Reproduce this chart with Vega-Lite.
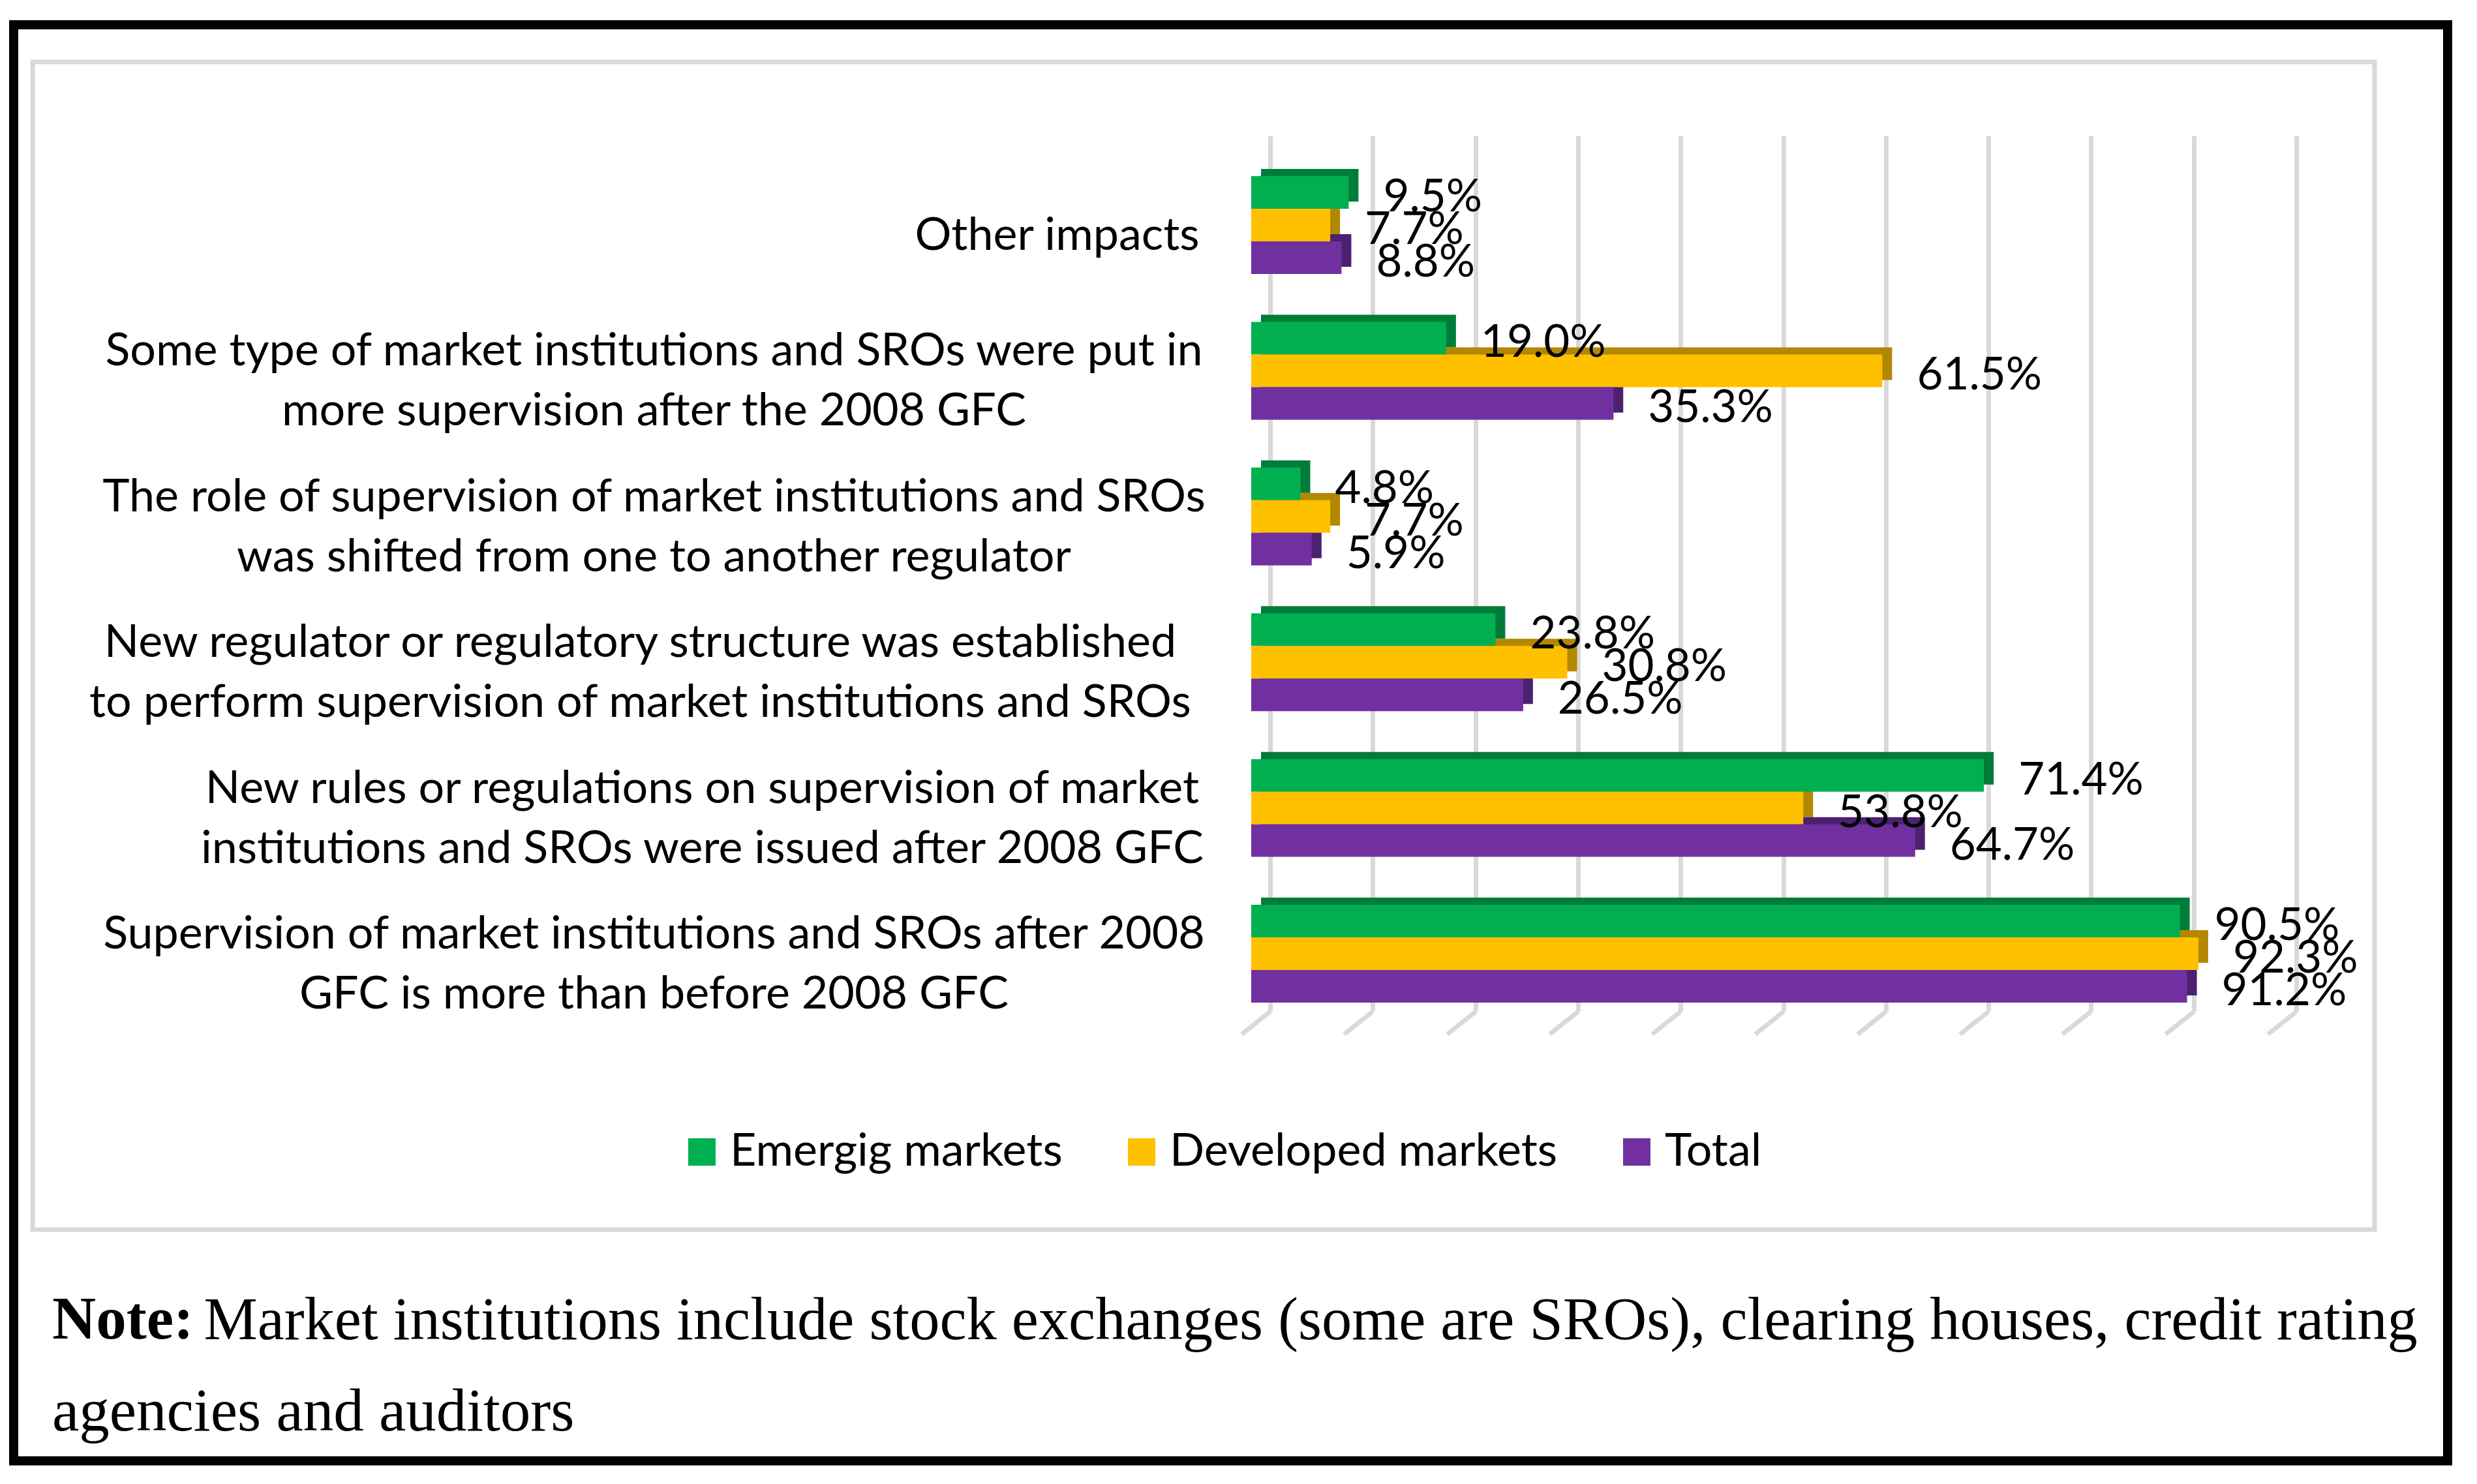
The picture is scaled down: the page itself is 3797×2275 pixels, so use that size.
{
  "$schema": "https://vega.github.io/schema/vega-lite/v6.json",
  "width": 3590,
  "height": 1790,
  "autosize": {"type": "none"},
  "padding": {"left": 50, "top": 95, "right": 157, "bottom": 390},
  "background": "white",
  "config": {
    "view": {"stroke": "#D9D9D9", "strokeWidth": 7},
    "font": "Lato"
  },
  "datasets": {
    "survey": [
      {"item": "Other impacts", "market": "Emergig markets", "share": 0.095},
      {"item": "Other impacts", "market": "Developed markets", "share": 0.077},
      {"item": "Other impacts", "market": "Total", "share": 0.088},
      {"item": "Some type of market institutions and SROs were put in\nmore supervision after the 2008 GFC", "market": "Emergig markets", "share": 0.190},
      {"item": "Some type of market institutions and SROs were put in\nmore supervision after the 2008 GFC", "market": "Developed markets", "share": 0.615},
      {"item": "Some type of market institutions and SROs were put in\nmore supervision after the 2008 GFC", "market": "Total", "share": 0.353},
      {"item": "The role of supervision of market institutions and SROs\nwas shifted from one to another regulator", "market": "Emergig markets", "share": 0.048},
      {"item": "The role of supervision of market institutions and SROs\nwas shifted from one to another regulator", "market": "Developed markets", "share": 0.077},
      {"item": "The role of supervision of market institutions and SROs\nwas shifted from one to another regulator", "market": "Total", "share": 0.059},
      {"item": "New regulator or regulatory structure was established\nto perform supervision of market institutions and SROs", "market": "Emergig markets", "share": 0.238},
      {"item": "New regulator or regulatory structure was established\nto perform supervision of market institutions and SROs", "market": "Developed markets", "share": 0.308},
      {"item": "New regulator or regulatory structure was established\nto perform supervision of market institutions and SROs", "market": "Total", "share": 0.265},
      {"item": "New rules or regulations on supervision of market\ninstitutions and SROs were issued after 2008 GFC", "market": "Emergig markets", "share": 0.714},
      {"item": "New rules or regulations on supervision of market\ninstitutions and SROs were issued after 2008 GFC", "market": "Developed markets", "share": 0.538},
      {"item": "New rules or regulations on supervision of market\ninstitutions and SROs were issued after 2008 GFC", "market": "Total", "share": 0.647},
      {"item": "Supervision of market institutions and SROs after 2008\nGFC is more than before 2008 GFC", "market": "Emergig markets", "share": 0.905},
      {"item": "Supervision of market institutions and SROs after 2008\nGFC is more than before 2008 GFC", "market": "Developed markets", "share": 0.923},
      {"item": "Supervision of market institutions and SROs after 2008\nGFC is more than before 2008 GFC", "market": "Total", "share": 0.912}
    ]
  },
  "title": {
    "text": "Note:",
    "subtitle": "agencies and auditors",
    "orient": "bottom",
    "anchor": "start",
    "frame": "group",
    "font": "Liberation Serif",
    "fontSize": 93,
    "fontWeight": "bold",
    "color": "black",
    "subtitleFont": "Liberation Serif",
    "subtitleFontSize": 93,
    "subtitleFontWeight": "normal",
    "subtitleColor": "black",
    "subtitlePadding": 48,
    "offset": -268,
    "dx": 30
  },
  "resolve": {"scale": {"x": "independent", "y": "independent"}},
  "layer": [
    {
      "data": {"values": [{}]},
      "mark": {
        "type": "rect",
        "fill": "transparent",
        "stroke": "black",
        "strokeWidth": 14,
        "xOffset": -29,
        "x2Offset": 112,
        "yOffset": -57,
        "y2Offset": 354.5,
        "clip": false
      },
      "encoding": {
        "x": {"value": 0},
        "x2": {"value": "width"},
        "y": {"value": 0},
        "y2": {"value": "height"}
      }
    },
    {
      "data": {"name": "survey"},
      "resolve": {"scale": {"yOffset": "independent", "color": "independent"}},
      "layer": [
        {
          "mark": {"type": "bar", "xOffset": 15, "x2Offset": 15},
          "encoding": {
            "y": {"field": "item", "type": "nominal", "sort": null,
                  "scale": {"range": [113, 1455], "paddingInner": 0.3286, "paddingOuter": 0.1679, "align": 0.827},
                  "axis": {
                    "title": null, "domain": false, "ticks": false, "tickSize": 0, "grid": false,
                    "offset": -1786, "labelPadding": 0,
                    "labelAlign": "center", "labelBaseline": "middle",
                    "labelFont": "Lato", "labelFontSize": 70, "labelColor": "black",
                    "labelLimit": 3000, "labelLineHeight": 92, "labelOffset": 17, "labelOverlap": false,
                    "labelExpr": "split(datum.label, '\\n')",
                    "encoding": {
                      "labels": {
                        "dx": {
                          "condition": [
                            {"test": "datum.value === 'Other impacts'", "value": -216},
                            {"test": "datum.value === 'New regulator or regulatory structure was established\\nto perform supervision of market institutions and SROs'", "value": -855},
                            {"test": "datum.value === 'New rules or regulations on supervision of market\\ninstitutions and SROs were issued after 2008 GFC'", "value": -760}
                          ],
                          "value": -834
                        },
                        "dy": {
                          "condition": {"test": "datum.value === 'Other impacts'", "value": 0},
                          "value": -46
                        }
                      }
                    }
                  }},
            "x": {"field": "share", "type": "quantitative",
                  "scale": {"domain": [-1.18754, 1.09472], "nice": false, "zero": false},
                  "axis": {
                    "orient": "top", "domain": false, "labels": false,
                    "offset": -1455,
                    "values": [0, 0.1, 0.2, 0.3, 0.4, 0.5, 0.6, 0.7, 0.8, 0.9, 1.0],
                    "grid": true, "gridColor": "#D9D9D9", "gridWidth": 7,
                    "ticks": true, "tickSize": -35, "tickColor": "#D9D9D9", "tickWidth": 7,
                    "tickOffset": 29,
                    "encoding": {"ticks": {"x2": {"value": {"expr": "item.x - 44"}}}},
                    "title": "Market institutions include stock exchanges (some are SROs), clearing houses, credit rating",
                    "titleX": 262, "titleY": 502,
                    "titleAlign": "left", "titleBaseline": "alphabetic", "titleAngle": 0,
                    "titleFont": "Liberation Serif", "titleFontSize": 92.5, "titleFontWeight": "normal",
                    "titleColor": "black", "titleLimit": 0
                  }},
            "yOffset": {"field": "market", "type": "nominal",
                        "sort": ["Emergig markets", "Developed markets", "Total"],
                        "scale": {"range": [-11, 139], "paddingInner": 0, "paddingOuter": 0}},
            "color": {"field": "market", "type": "nominal", "legend": null,
                      "scale": {"domain": ["Emergig markets", "Developed markets", "Total"],
                                "range": ["#007C3A", "#B38800", "#4C2170"]}}
          }
        },
        {
          "mark": {"type": "bar"},
          "encoding": {
            "y": {"field": "item", "type": "nominal", "sort": null,
                  "scale": {"range": [113, 1455], "paddingInner": 0.3286, "paddingOuter": 0.1679, "align": 0.827}},
            "x": {"field": "share", "type": "quantitative",
                  "scale": {"domain": [-1.18754, 1.09472], "nice": false, "zero": false}},
            "yOffset": {"field": "market", "type": "nominal",
                        "sort": ["Emergig markets", "Developed markets", "Total"],
                        "scale": {"paddingInner": 0, "paddingOuter": 0}},
            "color": {"field": "market", "type": "nominal",
                      "scale": {"domain": ["Emergig markets", "Developed markets", "Total"],
                                "range": ["#00B050", "#FFC000", "#7030A0"]},
                      "legend": {
                        "orient": "none", "legendX": 991, "legendY": 1636,
                        "direction": "horizontal", "title": null,
                        "symbolType": "square", "symbolSize": 1764, "symbolStrokeWidth": 0,
                        "labelFont": "Lato", "labelFontSize": 70, "labelColor": "black",
                        "labelOffset": 8, "columnPadding": 86, "labelLimit": 3000
                      }}
          }
        },
        {
          "mark": {"type": "text", "align": "left", "baseline": "middle", "dx": 53, "dy": 8,
                   "font": "Lato", "fontSize": 69, "color": "black"},
          "encoding": {
            "y": {"field": "item", "type": "nominal", "sort": null,
                  "scale": {"range": [113, 1455], "paddingInner": 0.3286, "paddingOuter": 0.1679, "align": 0.827}},
            "x": {"field": "share", "type": "quantitative",
                  "scale": {"domain": [-1.18754, 1.09472], "nice": false, "zero": false}},
            "yOffset": {"field": "market", "type": "nominal",
                        "sort": ["Emergig markets", "Developed markets", "Total"],
                        "scale": {"type": "point", "range": [25, 125], "padding": 0}},
            "text": {"field": "share", "type": "quantitative", "format": ".1%"}
          }
        }
      ]
    }
  ]
}
